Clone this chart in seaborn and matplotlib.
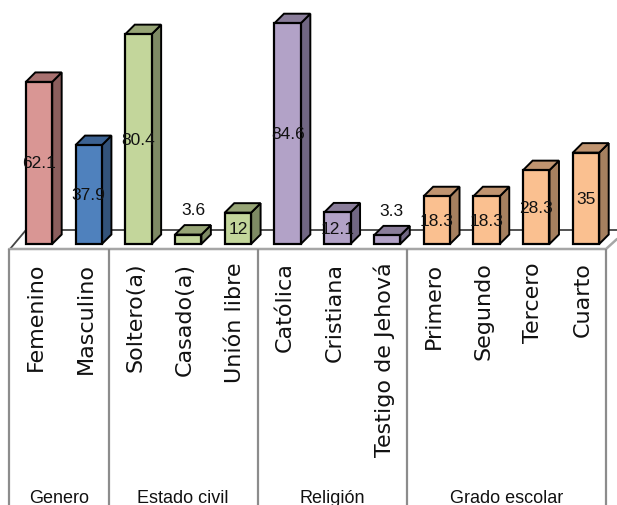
import matplotlib
matplotlib.use("Agg")
import matplotlib.pyplot as plt
from matplotlib.patches import Polygon
from matplotlib.transforms import Affine2D, ScaledTranslation
import numpy as np
import pandas as pd
import seaborn as sns

categories = ["Femenino", "Masculino", "Soltero(a)", "Casado(a)", "Unión libre", "Católica",
              "Cristiana", "Testigo de Jehová", "Primero", "Segundo", "Tercero", "Cuarto"]
values = [62.1, 37.9, 80.4, 3.6, 12, 84.6, 12.1, 3.3, 18.3, 18.3, 28.3, 35]
value_labels = ["62.1", "37.9", "80.4", "3.6", "12", "84.6", "12.1", "3.3", "18.3", "18.3", "28.3", "35"]
bar_colors = ["#D99694", "#4F81BD", "#C3D69B", "#C3D69B", "#C3D69B", "#B2A2C7", "#B2A2C7", "#B2A2C7",
              "#FAC090", "#FAC090", "#FAC090", "#FAC090"]
side_colors = ["#8B5E5D", "#33537A", "#7E8A64", "#7E8A64", "#7E8A64", "#716783", "#716783", "#716783",
               "#A6805F", "#A6805F", "#A6805F", "#A6805F"]
top_colors = ["#A87170", "#3C6292", "#97A576", "#97A576", "#97A576", "#8A7D9A", "#8A7D9A", "#8A7D9A",
              "#C09470", "#C09470", "#C09470", "#C09470"]
group_names = ["Genero", "Estado civil", "Religión", "Grado escolar"]
group_sizes = [2, 3, 3, 4]

W, H = 617, 506
PX_X, PX_Y = 49.73, 2.61      # pixels per category / per value unit
X0, Y0 = 39, 245              # pixel of category 0 and value 0
DEPTH = 9.5                   # 3D depth in pixels

sns.set_theme(style="white")
plt.rcParams["font.family"] = ["Liberation Sans", "DejaVu Sans"]

fig = plt.figure(figsize=(W / 100, H / 100), dpi=100, facecolor="white")
ax = fig.add_axes([0, 0, 1, 1])

df = pd.DataFrame({"cat": categories, "value": values})
sns.barplot(data=df, x="cat", y="value", hue="cat", palette=bar_colors, legend=False, width=0.53,
            edgecolor="black", linewidth=1.6, saturation=1, ax=ax, zorder=4)

ax.set_xlim(-X0 / PX_X, (W - X0) / PX_X)
ax.set_ylim(-(H - Y0) / PX_Y, Y0 / PX_Y)
ax.set_xlabel("")
ax.set_ylabel("")
ax.set_yticks([])
for name in ("left", "right", "top"):
    ax.spines[name].set_visible(False)
ax.spines["bottom"].set_visible(False)
ax.spines["bottom"].set_position(("data", 0))
ax.tick_params(axis="x", length=0, pad=17.5 * 0.72)
ax.set_xticks(range(len(categories)), categories, rotation=90, ha="center", va="top",
              family="DejaVu Sans", fontsize=16.0, color="#111111")
shift = ScaledTranslation(-3 / 100, 0, fig.dpi_scale_trans)
for lab in ax.get_xticklabels():
    lab.set_transform(lab.get_transform() + shift)

# 3D faces derived from the bars
dx, dy = DEPTH / PX_X, DEPTH / PX_Y
for bar, side, top in zip(ax.patches, side_colors, top_colors):
    x0, x1, h = bar.get_x(), bar.get_x() + bar.get_width(), bar.get_height()
    ax.add_patch(Polygon([(x1, 0), (x1 + dx, dy), (x1 + dx, h + dy), (x1, h)], closed=True,
                         facecolor=side, edgecolor="black", lw=1.4, zorder=3))
    ax.add_patch(Polygon([(x0, h), (x0 + dx, h + dy), (x1 + dx, h + dy), (x1, h)], closed=True,
                         facecolor=top, edgecolor="black", lw=1.4, zorder=3))

# Floor and group dividers
px = Affine2D().scale(1, -1).translate(0, H)
ax.plot([10, 26, 617], [250, 231, 231], color="#444444", lw=1.3, transform=px, zorder=1)
ax.plot([9, 606, 617], [250, 250, 240], color="#A6A6A6", lw=1.8, transform=px, zorder=1)

edges = -0.6 + np.concatenate([[0], np.cumsum(group_sizes)])
y_floor = -5 / PX_Y
y_bottom = -(H - Y0) / PX_Y
ax.vlines(edges, y_bottom, y_floor, color="#8C8C8C", lw=1.6, zorder=1)

for name, a, b in zip(group_names, edges[:-1], edges[1:]):
    ax.text((a + b) / 2, -(503 - Y0) / PX_Y, name, ha="center", va="baseline",
            fontsize=13, color="#111111")

for i, (v, t) in enumerate(zip(values, value_labels)):
    if v < 10:
        ax.text(i + dx / 2, v + dy + 8 / PX_Y, t, ha="center", va="bottom",
                fontsize=12.5, color="#111111", zorder=6)
    else:
        ax.text(i, v / 2, t, ha="center", va="center",
                fontsize=12.5, color="#111111", zorder=6)

fig.savefig("out.png", dpi=100)
